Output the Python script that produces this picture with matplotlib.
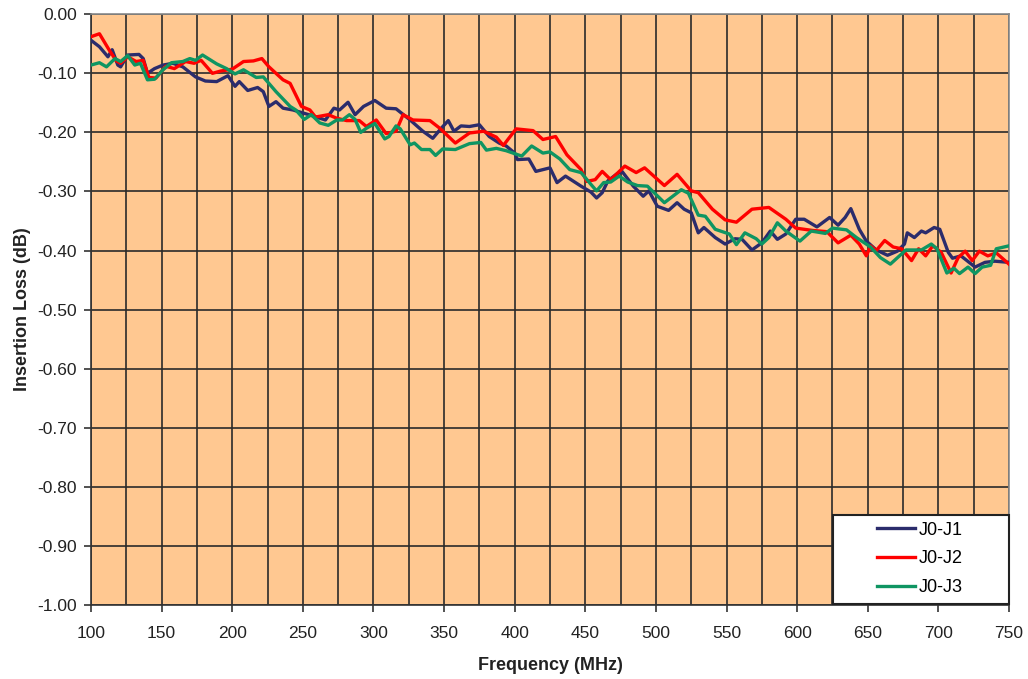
import numpy as np
import matplotlib
matplotlib.use("Agg")
import matplotlib.pyplot as plt
from matplotlib.patches import Rectangle
from matplotlib.ticker import MultipleLocator, FormatStrFormatter

plt.rcParams['font.family'] = ['Liberation Sans', 'DejaVu Sans']

# J0-J1 (navy)
f_j1 = [100, 106, 112, 115, 119, 121, 126, 134, 137, 140, 145, 151, 158, 165, 174, 181, 189, 197,
        202, 205, 211, 218, 222, 226, 231, 236, 243, 250, 257, 266, 272, 276, 282, 287, 293, 301,
        309, 316, 326, 335, 342, 348, 353, 357, 362, 368, 375, 382, 389, 394, 400, 402, 410, 415,
        425, 430, 436, 447, 454, 458, 462, 466, 472, 476, 484, 491, 495, 501, 509, 515, 520, 525,
        530, 534, 542, 549, 556, 561, 568, 575, 581, 586, 592, 599, 605, 614, 623, 629, 634, 638,
        644, 649, 656, 664, 671, 676, 678, 683, 688, 691, 697, 701, 707, 710, 716, 726, 733, 740, 750]
il_j1 = [-0.044, -0.055, -0.072, -0.060, -0.086, -0.089, -0.069, -0.068, -0.075, -0.100, -0.092,
         -0.086, -0.083, -0.089, -0.106, -0.113, -0.114, -0.104, -0.122, -0.114, -0.129, -0.124,
         -0.131, -0.156, -0.148, -0.159, -0.162, -0.167, -0.172, -0.179, -0.159, -0.162, -0.149,
         -0.170, -0.156, -0.146, -0.159, -0.160, -0.179, -0.198, -0.210, -0.193, -0.180, -0.198,
         -0.189, -0.190, -0.187, -0.207, -0.218, -0.223, -0.235, -0.246, -0.245, -0.266, -0.260,
         -0.285, -0.274, -0.291, -0.301, -0.311, -0.302, -0.282, -0.271, -0.266, -0.291, -0.308,
         -0.299, -0.325, -0.332, -0.319, -0.330, -0.336, -0.370, -0.361, -0.378, -0.389, -0.380,
         -0.381, -0.399, -0.387, -0.367, -0.381, -0.372, -0.347, -0.347, -0.360, -0.344, -0.357,
         -0.344, -0.329, -0.364, -0.384, -0.399, -0.408, -0.401, -0.389, -0.370, -0.378, -0.367,
         -0.370, -0.361, -0.364, -0.403, -0.413, -0.409, -0.428, -0.420, -0.418, -0.420]

# J0-J2 (red)
f_j2 = [100, 106, 113, 118, 121, 126, 132, 137, 141, 146, 153, 159, 167, 173, 178, 186, 192, 200,
        208, 215, 221, 226, 236, 241, 249, 255, 259, 268, 274, 281, 290, 295, 302, 309, 316, 321,
        328, 340, 347, 358, 368, 378, 387, 392, 401, 413, 420, 429, 437, 447, 451, 457, 462, 468,
        478, 486, 492, 506, 515, 525, 530, 540, 549, 557, 568, 580, 592, 599, 611, 621, 629, 638,
        644, 649, 652, 656, 662, 668, 674, 681, 686, 691, 696, 702, 709, 714, 719, 724, 729, 735,
        741, 750]
il_j2 = [-0.038, -0.033, -0.061, -0.079, -0.083, -0.072, -0.080, -0.078, -0.107, -0.108, -0.088,
         -0.092, -0.080, -0.083, -0.078, -0.100, -0.096, -0.093, -0.080, -0.079, -0.075, -0.089,
         -0.111, -0.117, -0.156, -0.162, -0.174, -0.170, -0.176, -0.180, -0.180, -0.190, -0.179,
         -0.202, -0.198, -0.170, -0.179, -0.180, -0.193, -0.218, -0.201, -0.198, -0.208, -0.222,
         -0.194, -0.197, -0.212, -0.207, -0.238, -0.263, -0.283, -0.280, -0.266, -0.280, -0.257,
         -0.268, -0.260, -0.290, -0.271, -0.299, -0.302, -0.330, -0.348, -0.352, -0.330, -0.327,
         -0.347, -0.362, -0.366, -0.368, -0.387, -0.374, -0.389, -0.409, -0.392, -0.400, -0.383,
         -0.394, -0.397, -0.417, -0.397, -0.409, -0.392, -0.403, -0.438, -0.412, -0.401, -0.417,
         -0.401, -0.409, -0.404, -0.423]

# J0-J3 (green)
f_j3 = [100, 106, 111, 117, 121, 126, 131, 135, 140, 145, 151, 157, 165, 170, 174, 179, 189, 196,
        202, 208, 217, 222, 231, 241, 245, 251, 256, 262, 268, 274, 278, 283, 287, 291, 295, 301,
        308, 311, 316, 319, 326, 329, 334, 340, 344, 349, 358, 368, 376, 380, 387, 394, 400, 405,
        412, 420, 425, 432, 439, 447, 454, 458, 463, 468, 474, 480, 487, 494, 506, 512, 518, 523,
        530, 535, 542, 552, 557, 563, 571, 575, 580, 586, 592, 602, 610, 620, 625, 635, 642, 652,
        659, 666, 672, 677, 688, 695, 699, 706, 711, 715, 721, 726, 731, 737, 741, 750]
il_j3 = [-0.086, -0.082, -0.089, -0.075, -0.080, -0.070, -0.086, -0.083, -0.111, -0.110, -0.094,
         -0.082, -0.080, -0.075, -0.078, -0.069, -0.084, -0.092, -0.101, -0.094, -0.107, -0.106,
         -0.131, -0.156, -0.162, -0.178, -0.170, -0.184, -0.188, -0.179, -0.179, -0.170, -0.178,
         -0.200, -0.193, -0.185, -0.211, -0.207, -0.189, -0.194, -0.221, -0.218, -0.229, -0.229,
         -0.239, -0.228, -0.229, -0.219, -0.217, -0.230, -0.227, -0.231, -0.236, -0.240, -0.223,
         -0.235, -0.233, -0.245, -0.263, -0.268, -0.288, -0.299, -0.285, -0.284, -0.274, -0.284,
         -0.290, -0.291, -0.319, -0.308, -0.297, -0.303, -0.340, -0.342, -0.364, -0.372, -0.390,
         -0.370, -0.380, -0.389, -0.378, -0.353, -0.367, -0.384, -0.367, -0.371, -0.362, -0.365,
         -0.378, -0.394, -0.412, -0.423, -0.410, -0.399, -0.399, -0.389, -0.397, -0.438, -0.430,
         -0.439, -0.428, -0.439, -0.428, -0.425, -0.397, -0.392]

fig = plt.figure(figsize=(10.28, 6.79), dpi=100)
ax = fig.add_axes([0.0885, 0.109, 0.893, 0.870])
ax.set_facecolor('#FFC891')

ax.plot(f_j1, il_j1, color='#2B2C6C', lw=2.4, label='J0-J1', zorder=3)
ax.plot(f_j2, il_j2, color='#FF0000', lw=2.4, label='J0-J2', zorder=3)
ax.plot(f_j3, il_j3, color='#0F9562', lw=2.4, label='J0-J3', zorder=3)

ax.set_xlim(100, 750)
ax.set_ylim(-1.0, 0.0)
ax.xaxis.set_major_locator(MultipleLocator(50))
ax.xaxis.set_minor_locator(MultipleLocator(25))
ax.yaxis.set_major_locator(MultipleLocator(0.1))
ax.yaxis.set_major_formatter(FormatStrFormatter('%.2f'))
ax.grid(which='both', color='#2A2A2A', lw=1.2, zorder=1)
ax.set_axisbelow(True)
ax.tick_params(which='major', direction='out', length=5, width=1.2, color='#333333',
               labelsize=12.5, labelcolor='#222222')
ax.tick_params(axis='x', which='major', pad=10)
ax.tick_params(axis='y', which='major', pad=5)
ax.tick_params(which='minor', length=0)

for s in ['top', 'right']:
    ax.spines[s].set_color('#8A8A8A')
    ax.spines[s].set_linewidth(1.2)
for s in ['left', 'bottom']:
    ax.spines[s].set_color('#333333')
    ax.spines[s].set_linewidth(1.2)

ax.set_xlabel('Frequency (MHz)', fontsize=13, fontweight='bold', color='#222222', labelpad=12)
ax.set_ylabel('Insertion Loss (dB)', fontsize=13, fontweight='bold', color='#222222', labelpad=5)

# legend box (white, framed) in the lower right corner
box = Rectangle((0.808, 0.0015), 0.192, 0.151, transform=ax.transAxes, facecolor='white',
                edgecolor='#222222', lw=1.5, zorder=4, clip_on=False)
ax.add_patch(box)
leg = ax.legend(loc='center', bbox_to_anchor=(0.903, 0.078), frameon=False, fontsize=13,
                handlelength=2.1, labelspacing=0.65, handletextpad=0.25, borderpad=0)
leg.set_zorder(5)

fig.savefig('out.png', dpi=100, facecolor='white')
